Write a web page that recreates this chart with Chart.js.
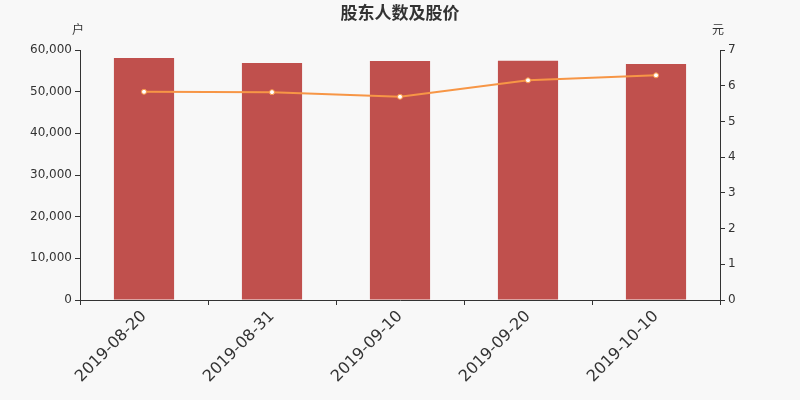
<!DOCTYPE html>
<html><head><meta charset="utf-8">
<script src="https://cdn.jsdelivr.net/npm/chart.js@4"></script>
<style>html,body{margin:0;padding:0;background:#f8f8f8;}#wrap{width:800px;height:400px;}</style>
</head><body><div id="wrap"><canvas id="c" width="800" height="400"></canvas></div>
<script>
const categories = ['2019-08-20','2019-08-31','2019-09-10','2019-09-20','2019-10-10'];
const holders = [58080, 56880, 57360, 57430, 56640];
const prices = [5.83, 5.82, 5.69, 6.15, 6.29];
const titleText = '股东人数及股价';
const leftUnit = '户';
const rightUnit = '元';

const font = "'Noto Sans CJK SC','DejaVu Sans',sans-serif";
const tickFont = "'DejaVu Sans',sans-serif";
const textPlugin = {
  id: 'texts',
  afterDraw(chart) {
    const ctx = chart.ctx, a = chart.chartArea;
    ctx.save();
    ctx.fillStyle = '#333';
    ctx.textAlign = 'center';
    ctx.textBaseline = 'middle';
    ctx.font = "bold 17px " + font;
    ctx.fillText(titleText, 400, 13);
    ctx.font = "12px " + font;
    ctx.fillText(leftUnit, a.left - 2, 29);
    ctx.fillText(rightUnit, a.right - 2, 29);
    ctx.restore();
  }
};
const bg = { id: 'bg', beforeDraw(c){ const x=c.ctx; x.save(); x.fillStyle='#f8f8f8'; x.fillRect(0,0,c.width,c.height); x.restore(); } };

new Chart(document.getElementById('c'), {
  data: {
    labels: categories,
    datasets: [
      { type: 'line', data: prices, yAxisID: 'y1', borderColor: '#f79646', borderWidth: 2,
        pointRadius: 2.5, pointBackgroundColor: '#fff', pointBorderColor: '#f79646', pointBorderWidth: 1,
        tension: 0, order: 0 },
      { type: 'bar', data: holders, yAxisID: 'y', backgroundColor: '#c0504d',
        categoryPercentage: 1, barPercentage: 0.47, order: 1 }
    ]
  },
  options: {
    responsive: false, animation: false, devicePixelRatio: 1,
    layout: { padding: { top: 50, left: 0, right: 0, bottom: 0 } },
    plugins: { legend: { display: false }, title: { display: false }, tooltip: { enabled: false } },
    scales: {
      x: {
        grid: { display: true, drawOnChartArea: false, drawTicks: true, tickLength: 5, color: '#333', offset: true },
        border: { color: '#333', width: 1 },
        ticks: { color: '#333', font: { size: 16, family: tickFont }, minRotation: 45, maxRotation: 45, padding: 2 },
        afterFit(s) { s.height = 100; }
      },
      y: {
        position: 'left', min: 0, max: 60000,
        grid: { drawOnChartArea: false, tickLength: 5, color: '#333' },
        border: { color: '#333', width: 1 },
        ticks: { stepSize: 10000, color: '#333', font: { size: 12, family: tickFont }, padding: 3 },
        afterFit(s) { s.width = 80; }
      },
      y1: {
        position: 'right', min: 0, max: 7,
        grid: { drawOnChartArea: false, tickLength: 5, color: '#333' },
        border: { color: '#333', width: 1 },
        ticks: { stepSize: 1, color: '#333', font: { size: 12, family: tickFont }, padding: 3 },
        afterFit(s) { s.width = 80; }
      }
    }
  },
  plugins: [bg, textPlugin]
});
</script>
</body></html>
